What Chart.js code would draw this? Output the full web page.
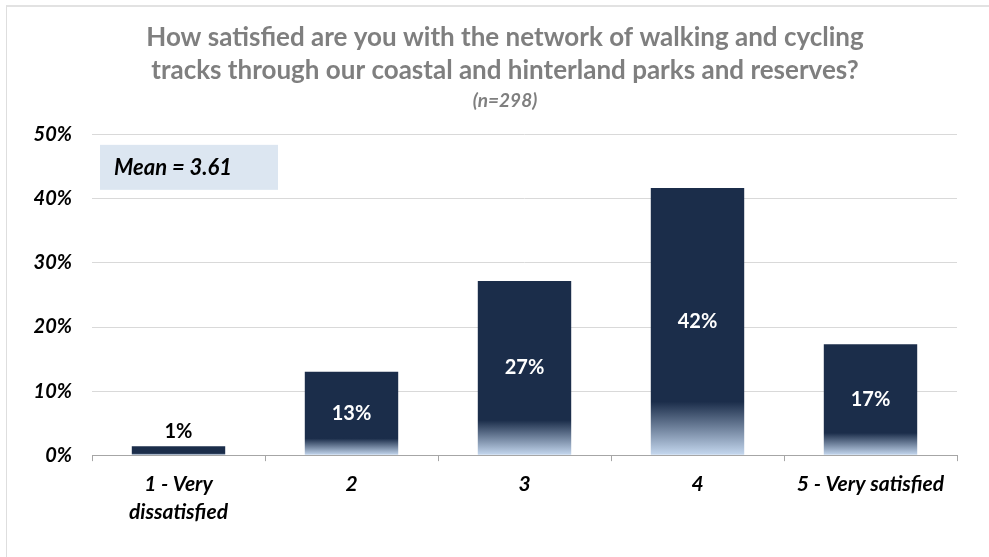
<!DOCTYPE html>
<html>
<head>
<meta charset="utf-8">
<script src="https://cdn.jsdelivr.net/npm/chart.js@4.4.1/dist/chart.umd.min.js"></script>
<style>
  body { margin: 0; background: #fff; }
  #wrap { position: relative; width: 989px; height: 557px; }
  #frame { position: absolute; left: 6px; top: 5px; right: 0; bottom: 0;
           border-left: 1px solid #dedede; border-top: 2px solid #e2e2e2; pointer-events: none; }
</style>
</head>
<body>
<div id="wrap">
  <canvas id="grafico" width="989" height="557"></canvas>
  <div id="frame"></div>
</div>
<script>
// Dados
const categorias = [['1 - Very', 'dissatisfied'], '2', '3', '4', '5 - Very satisfied'];
const percentuais = [1.4, 13.0, 27.2, 41.7, 17.3];
const rotulos = ['1%', '13%', '27%', '42%', '17%'];
const tituloLinhas = ['How satisfied are you with the network of walking and cycling',
                      'tracks through our coastal and hinterland parks and reserves?'];
const subtitulo = '(n=298)';
const media = 'Mean = 3.61';

const fonte = 'Lato, "Open Sans", sans-serif';

// Gradiente no pé de cada barra
function corBarra(ctx) {
  const chart = ctx.chart;
  const area = chart.chartArea;
  if (!area || ctx.type !== 'data') return '#1b2d4a';
  const y = chart.scales.y;
  const topo = y.getPixelForValue(ctx.raw);
  const base = y.getPixelForValue(0);
  const g = chart.ctx.createLinearGradient(0, topo, 0, base);
  g.addColorStop(0, '#1b2d4a');
  g.addColorStop(0.8, '#1b2d4a');
  g.addColorStop(1, '#c6d9f0');
  return g;
}

// Rótulos de valor + caixa da média
const extras = {
  id: 'extras',
  afterDatasetsDraw(chart) {
    const c = chart.ctx;
    const meta = chart.getDatasetMeta(0);
    c.save();
    c.font = 'bold 20px ' + fonte;
    c.textAlign = 'center';
    c.textBaseline = 'middle';
    meta.data.forEach((bar, i) => {
      const altura = bar.base - bar.y;
      if (altura > 30) {
        c.fillStyle = '#ffffff';
        c.fillText(rotulos[i], bar.x, (bar.y + bar.base) / 2);
      } else {
        c.fillStyle = '#000000';
        c.fillText(rotulos[i], bar.x, bar.y - 15);
      }
    });
    const a = chart.chartArea;
    c.fillStyle = '#dce6f1';
    c.fillRect(a.left + 8, a.top + 10, 178, 45);
    c.fillStyle = '#000000';
    c.textAlign = 'left';
    c.font = 'italic bold 22px ' + fonte;
    c.fillText(media, a.left + 22, a.top + 33);
    c.restore();
  }
};

new Chart(document.getElementById('grafico'), {
  type: 'bar',
  data: {
    labels: categorias,
    datasets: [{
      data: percentuais,
      backgroundColor: corBarra,
      barPercentage: 0.54,
      categoryPercentage: 1
    }]
  },
  options: {
    responsive: false,
    animation: false,
    layout: { padding: { left: 21, right: 0, top: 11, bottom: 22 } },
    plugins: {
      legend: { display: false },
      tooltip: { enabled: false },
      title: {
        display: true,
        text: tituloLinhas,
        color: '#7f7f7f',
        font: { family: fonte, size: 26, weight: 'bold', lineHeight: 1.27 },
        padding: { top: 10, bottom: 2 }
      },
      subtitle: {
        display: true,
        text: subtitulo,
        color: '#7f7f7f',
        font: { family: fonte, size: 19, weight: 'bold', style: 'italic' },
        padding: { top: 0, bottom: 23 }
      }
    },
    scales: {
      x: {
        grid: { drawOnChartArea: false, drawTicks: true, tickLength: 6, color: '#a6a6a6' },
        border: { color: '#a6a6a6' },
        ticks: {
          color: '#000',
          font: { family: fonte, size: 21, weight: 'bold', style: 'italic', lineHeight: 1.33 },
          padding: 9,
          maxRotation: 0
        }
      },
      y: {
        min: 0,
        max: 50,
        afterFit(scale) { scale.width = 71; },
        grid: { color: '#d9d9d9', drawTicks: false },
        border: { display: false },
        ticks: {
          stepSize: 10,
          color: '#000',
          padding: 20,
          font: { family: fonte, size: 20, weight: 'bold', style: 'italic' },
          callback: v => v + '%'
        }
      },
      margem: {
        position: 'right',
        afterFit(scale) { scale.width = 32; },
        grid: { display: false },
        border: { display: false },
        ticks: { display: false }
      }
    }
  },
  plugins: [extras]
});
</script>
</body>
</html>
